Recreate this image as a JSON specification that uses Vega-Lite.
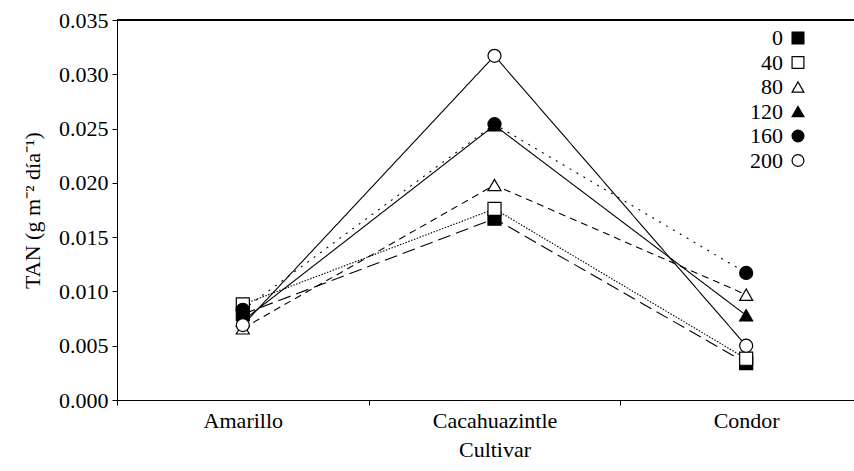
{
  "$schema": "https://vega.github.io/schema/vega-lite/v6.json",
  "width": 737,
  "height": 380,
  "autosize": {"type": "none"},
  "padding": {"left": 117, "top": 20, "right": 0, "bottom": 71},
  "background": "white",
  "config": {
    "view": {"stroke": null},
    "font": "Liberation Serif",
    "axis": {
      "domainColor": "black",
      "tickColor": "black",
      "labelColor": "black",
      "titleColor": "black",
      "labelFont": "Liberation Serif",
      "titleFont": "Liberation Serif",
      "labelFontSize": 22,
      "titleFontSize": 22,
      "titleFontWeight": "normal",
      "tickSize": 5,
      "grid": false
    },
    "legend": {
      "labelFont": "Liberation Serif",
      "labelColor": "black"
    }
  },
  "data": {
    "values": [
      {"cultivar": "Amarillo", "dosis": "0", "tan": 0.0079},
      {"cultivar": "Cacahuazintle", "dosis": "0", "tan": 0.0167},
      {"cultivar": "Condor", "dosis": "0", "tan": 0.0034},
      {"cultivar": "Amarillo", "dosis": "40", "tan": 0.0088},
      {"cultivar": "Cacahuazintle", "dosis": "40", "tan": 0.0176},
      {"cultivar": "Condor", "dosis": "40", "tan": 0.0038},
      {"cultivar": "Amarillo", "dosis": "80", "tan": 0.0066},
      {"cultivar": "Cacahuazintle", "dosis": "80", "tan": 0.0198},
      {"cultivar": "Condor", "dosis": "80", "tan": 0.0097},
      {"cultivar": "Amarillo", "dosis": "120", "tan": 0.0073},
      {"cultivar": "Cacahuazintle", "dosis": "120", "tan": 0.0253},
      {"cultivar": "Condor", "dosis": "120", "tan": 0.0078},
      {"cultivar": "Amarillo", "dosis": "160", "tan": 0.0083},
      {"cultivar": "Cacahuazintle", "dosis": "160", "tan": 0.0254},
      {"cultivar": "Condor", "dosis": "160", "tan": 0.0117},
      {"cultivar": "Amarillo", "dosis": "200", "tan": 0.0069},
      {"cultivar": "Cacahuazintle", "dosis": "200", "tan": 0.0317},
      {"cultivar": "Condor", "dosis": "200", "tan": 0.0050}
    ]
  },
  "layer": [
    {
      "mark": {"type": "rule", "color": "black", "strokeWidth": 1},
      "encoding": {
        "y": {"datum": 0.035, "type": "quantitative", "scale": {"domain": [0, 0.035], "nice": false}}
      }
    },
    {
      "mark": {"type": "line", "color": "black", "strokeWidth": 1.1},
      "encoding": {
        "x": {
          "field": "cultivar", "type": "nominal",
          "sort": ["Amarillo", "Cacahuazintle", "Condor"],
          "scale": {"type": "band", "range": [0, 755], "paddingInner": 0, "paddingOuter": 0},
          "axis": {"title": "Cultivar", "labelAngle": 0, "tickBand": "extent", "labelPadding": 5, "titlePadding": 8}
        },
        "y": {
          "field": "tan", "type": "quantitative",
          "scale": {"domain": [0, 0.035], "nice": false},
          "axis": {
            "title": "TAN (g m⁻² día⁻¹)",
            "values": [0, 0.005, 0.01, 0.015, 0.02, 0.025, 0.03, 0.035],
            "format": ".3f",
            "labelPadding": 4,
            "titlePadding": 14
          }
        },
        "strokeDash": {
          "field": "dosis", "type": "nominal",
          "sort": ["0", "40", "80", "120", "160", "200"],
          "scale": {
            "range": [[13, 6], [1.5, 1.5], [7, 5], [1, 0], [2, 6], [1, 0]]
          },
          "legend": null
        }
      }
    },
    {
      "mark": {"type": "point", "filled": true, "stroke": "black", "strokeWidth": 1.2, "opacity": 1, "size": 170},
      "encoding": {
        "x": {"field": "cultivar", "type": "nominal", "sort": ["Amarillo", "Cacahuazintle", "Condor"]},
        "y": {"field": "tan", "type": "quantitative"},
        "stroke": {"value": "black"},
        "shape": {
          "field": "dosis", "type": "nominal",
          "scale": {
            "domain": ["0", "40", "80", "120", "160", "200"],
            "range": ["square", "square", "triangle-up", "triangle-up", "circle", "circle"]
          },
          "legend": {
            "title": null,
            "orient": "none",
            "legendX": 625,
            "legendY": 7,
            "padding": 0,
            "labelAlign": "right",
            "labelOffset": -26,
            "symbolOffset": 45,
            "labelFontSize": 22,
            "rowPadding": 2.5,
            "symbolStrokeWidth": 1.2,
            "symbolSize": 140
          }
        },
        "fill": {
          "field": "dosis", "type": "nominal",
          "scale": {
            "domain": ["0", "40", "80", "120", "160", "200"],
            "range": ["black", "white", "white", "black", "black", "white"]
          },
          "legend": {
            "title": null,
            "orient": "none",
            "legendX": 625,
            "legendY": 7,
            "padding": 0,
            "labelAlign": "right",
            "labelOffset": -26,
            "symbolOffset": 45,
            "labelFontSize": 22,
            "rowPadding": 2.5,
            "symbolStrokeWidth": 1.2,
            "symbolSize": 140
          }
        }
      }
    }
  ]
}
